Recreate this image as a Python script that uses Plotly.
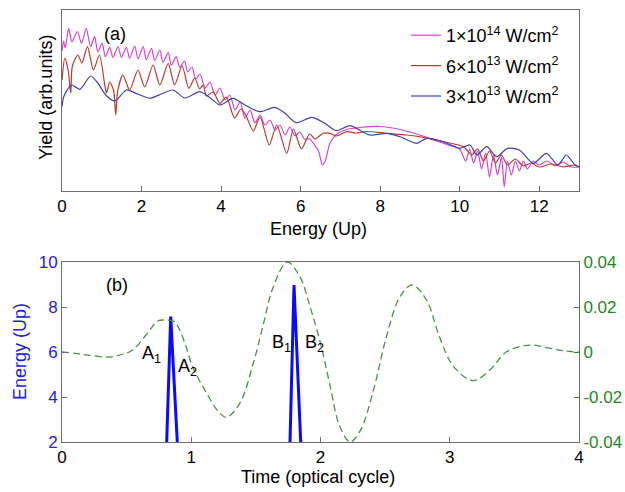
import plotly.graph_objects as go

# ---------------- Panel (a): yield spectra (arb. units) ----------------
e_1e14 = [0.00, 0.04, 0.08, 0.17, 0.25, 0.385, 0.49, 0.61, 0.72, 0.82, 0.90, 1.01, 1.09, 1.20, 1.28,
          1.41, 1.49, 1.62, 1.70, 1.83, 1.91, 2.04, 2.12, 2.25, 2.33, 2.46, 2.54, 2.67, 2.75, 2.87,
          2.96, 3.08, 3.16, 3.27, 3.36, 3.47, 3.60, 3.72, 3.85, 3.97, 4.10, 4.22, 4.35, 4.48, 4.60,
          4.73, 4.85, 4.98, 5.10, 5.23, 5.36, 5.48, 5.61, 5.73, 5.86, 5.98, 6.10, 6.23, 6.35, 6.45,
          6.55, 6.62, 6.74, 6.91, 7.16, 7.50, 8.00, 8.50, 9.00, 9.42, 9.84, 10.0, 10.15, 10.25,
          10.35, 10.45, 10.55, 10.65, 10.75, 10.85, 10.95, 11.05, 11.12, 11.20, 11.30, 11.40, 11.50,
          11.60, 11.70, 11.85, 12.0, 12.2, 12.4, 12.6, 12.8, 13.0]
y_1e14 = [140, 150, 143, 162.7, 149, 159.3, 147.7, 162.7, 144.3, 154.3, 139.3, 147.7, 134.3, 143.7, 133.7,
          144.3, 133.7, 143.7, 132.7, 145, 132, 144.3, 131.3, 142.7, 130.3, 141, 128.7, 138.3, 125.7, 134.3,
          123.7, 130, 119, 124, 112, 117, 103, 109, 96, 103, 91, 96, 81, 89, 73,
          81, 68, 76, 66, 71, 61, 66, 56, 64, 55, 59, 52, 52, 46, 40,
          26, 30, 48, 57, 61.5, 63.5, 64.5, 61.5, 56, 50, 44.5, 42, 30, 42,
          28, 40, 22, 38, 14, 36, 16, 34, 4, 30, 16, 30, 20,
          30, 22, 30, 26, 30, 25, 29, 24, 24]

e_6e13 = [0.00, 0.07, 0.15, 0.22, 0.26, 0.40, 0.50, 0.64, 0.79, 0.94, 1.08, 1.12, 1.20, 1.30, 1.35,
          1.40, 1.53, 1.70, 1.91, 2.08, 2.29, 2.46, 2.67, 2.83, 3.02, 3.19, 3.34, 3.46, 3.55, 3.63,
          3.80, 3.97, 4.13, 4.34, 4.50, 4.62, 4.81, 4.98, 5.21, 5.40, 5.65, 5.82, 6.02, 6.23, 6.36,
          6.57, 6.74, 6.90, 7.16, 7.40, 7.66, 8.17, 8.67, 9.08, 9.59, 10.1, 10.3, 10.45, 10.6, 10.75,
          10.9, 11.05, 11.2, 11.4, 11.6, 11.8, 12.0, 12.3, 12.6, 12.9, 13.0]
y_6e13 = [111, 132.7, 122, 97.7, 125, 136, 128, 144.3, 121, 136, 105, 98, 109, 100, 76,
          100, 116, 101, 121, 104, 126, 106, 127.7, 106, 125, 102.7, 113, 102, 106, 95,
          99, 87.7, 94, 73, 82, 76, 60, 74, 46, 66, 37.7, 62, 42, 57, 52,
          57.7, 57.7, 55, 59.3, 58, 59.5, 57.7, 56, 53.7, 49.3, 44.3, 36, 42, 30, 40,
          28, 36, 26, 32, 25, 28, 24, 27, 24, 26, 24]

e_3e13 = [0.00, 0.05, 0.24, 0.45, 0.72, 0.90, 1.10, 1.33, 1.62, 1.90, 2.21, 2.50, 2.79, 3.09, 3.46,
          3.70, 3.97, 4.30, 4.60, 4.97, 5.35, 5.60, 5.89, 6.28, 6.60, 6.90, 7.24, 7.74, 8.17, 8.50,
          8.92, 9.17, 9.59, 10.0, 10.26, 10.43, 10.68, 10.93, 11.2, 11.5, 11.85, 12.18, 12.47, 12.68,
          12.9, 13.0]
y_3e13 = [84.3, 95, 106, 101.7, 115, 108, 96, 90, 101, 97, 92.7, 97, 101, 93, 99.3,
          94, 86, 92.7, 86, 79.3, 83.7, 78, 68.3, 73.7, 68, 60.3, 65.3, 56, 57.7, 54.3,
          47.7, 52.7, 49.3, 42.7, 46, 36, 44.3, 34.3, 42.7, 41, 27.7, 37.7, 26, 36,
          26, 24.3]

legend_names = ["1×10<sup>14</sup> W/cm<sup>2</sup>",
                "6×10<sup>13</sup> W/cm<sup>2</sup>",
                "3×10<sup>13</sup> W/cm<sup>2</sup>"]

# ---------------- Panel (b) ----------------
spike_a_t = [0.81, 0.841, 0.892]
spike_a_e = [2.0, 7.57, 2.0]
spike_b_t = [1.764, 1.795, 1.847]
spike_b_e = [2.0, 8.98, 2.0]

field_t = [0.00, 0.10, 0.20, 0.37, 0.48, 0.55, 0.68, 0.74, 0.80, 0.87, 0.91, 0.96, 1.01, 1.12, 1.22,
           1.274, 1.377, 1.48, 1.56, 1.635, 1.743, 1.84, 1.92, 2.00, 2.07, 2.15, 2.23, 2.31, 2.41,
           2.51, 2.615, 2.71, 2.82, 2.92, 3.03, 3.18, 3.31, 3.44, 3.62, 3.78, 3.90, 4.00]
field_v = [0.0, -0.0006, -0.0014, -0.0022, -0.0008, 0.0010, 0.0098, 0.0138, 0.0142, 0.0135, 0.0098,
           0.0024, -0.0065, -0.0184, -0.0272, -0.0290, -0.0226, -0.0050, 0.0128, 0.0290, 0.0400,
           0.0335, 0.0200, 0.0039, -0.0139, -0.0332, -0.0400, -0.0347, -0.0169, 0.0068, 0.0246,
           0.0298, 0.0231, 0.0068, -0.0065, -0.0127, -0.0080, 0.0001, 0.0031, 0.0016, 0.0004, 0.0]

top_xticks = [0, 2, 4, 6, 8, 10, 12]
bot_xticks = [0, 1, 2, 3, 4]
left_yticks = [2, 4, 6, 8, 10]
right_yticks = [-0.04, -0.02, 0, 0.02, 0.04]
right_yticktext = ["-0.04", "-0.02", "0", "0.02", "0.04"]

W, H = 625, 492
FONT = "Liberation Sans, Arial, sans-serif"
AXC = "#6e6e6e"

def px(x):
    return x / W

def py(y):
    return 1 - y / H

fig = go.Figure()
colors = ["#d444d4", "#bc3a30", "#3f3fb0"]
for i, (e, y, c, n) in enumerate([(e_1e14, y_1e14, colors[0], legend_names[0]),
                                  (e_6e13, y_6e13, colors[1], legend_names[1]),
                                  (e_3e13, y_3e13, colors[2], legend_names[2])]):
    fig.add_trace(go.Scatter(x=e, y=y, mode="lines", name=n, legendgroup="g%d" % i,
                             line=dict(color=c, width=1.2, shape="spline", smoothing=0.7),
                             xaxis="x", yaxis="y"))

fig.add_trace(go.Scatter(x=field_t, y=field_v, mode="lines", showlegend=False,
                         line=dict(color="#4a904a", width=1.3, dash="7px,4px", shape="spline", smoothing=1.0),
                         xaxis="x2", yaxis="y3"))
for t, e in [(spike_a_t, spike_a_e), (spike_b_t, spike_b_e)]:
    fig.add_trace(go.Scatter(x=t, y=e, mode="lines", showlegend=False,
                             line=dict(color="#0a0aff", width=3),
                             xaxis="x2", yaxis="y2"))

xdom = [px(62), px(579)]
common = dict(showline=True, linecolor=AXC, linewidth=1, mirror=True, showgrid=False, zeroline=False,
              tickfont=dict(family=FONT, size=17, color="black"), ticks="inside", ticklen=5,
              tickcolor=AXC, automargin=False)

fig.update_layout(
    width=W, height=H, margin=dict(l=0, r=0, t=0, b=0, pad=0, autoexpand=False),
    paper_bgcolor="white", plot_bgcolor="white",
    font=dict(family=FONT, size=17, color="black"),
    xaxis=dict(domain=xdom, anchor="y", range=[0, 13], tickvals=top_xticks, **common),
    yaxis=dict(domain=[py(191), py(10)], anchor="x", range=[0, 181],
               showline=True, linecolor=AXC, linewidth=1, mirror=True, showgrid=False,
               zeroline=False, showticklabels=False, ticks="", automargin=False),
    xaxis2=dict(domain=xdom, anchor="y2", range=[0, 4], tickvals=bot_xticks, **common),
    yaxis2=dict(domain=[py(442), py(262)], anchor="x2", range=[2, 10], tickvals=left_yticks,
                showline=True, linecolor=AXC, linewidth=1, mirror=True, showgrid=False, zeroline=False,
                ticks="inside", ticklen=5, tickcolor=AXC, automargin=False,
                tickfont=dict(family=FONT, size=17, color="#2020e8")),
    yaxis3=dict(overlaying="y2", anchor="x2", side="right", range=[-0.04, 0.04],
                tickvals=right_yticks, ticktext=right_yticktext,
                showline=True, linecolor=AXC, linewidth=1, showgrid=False, zeroline=False,
                ticks="inside", ticklen=5, tickcolor="#2a8a2a", automargin=False,
                tickfont=dict(family=FONT, size=17, color="#1f8a1f")),
    legend=dict(x=px(406), y=py(17), xanchor="left", yanchor="top",
                bgcolor="rgba(255,255,255,0)", borderwidth=0, tracegroupgap=4,
                font=dict(family=FONT, size=18, color="black")),
)

ann = [
    ("Energy (Up)", 318, 229, 18, "black", 0),
    ("Time (optical cycle)", 318, 477, 18, "black", 0),
    ("Yield (arb.units)", 46, 98, 18, "black", -90),
    ("Energy (Up)", 20, 352, 18, "#2020e8", -90),
    ("(a)", 115, 34, 18, "black", 0),
    ("(b)", 117, 285, 18, "black", 0),
    ("A<sub>1</sub>", 151, 354, 18, "black", 0),
    ("A<sub>2</sub>", 187, 367, 18, "black", 0),
    ("B<sub>1</sub>", 281, 343, 18, "black", 0),
    ("B<sub>2</sub>", 314, 343, 18, "black", 0),
]
for text, x, y, s, c, rot in ann:
    fig.add_annotation(text=text, x=px(x), y=py(y), xref="paper", yref="paper",
                       showarrow=False, xanchor="center", yanchor="middle", textangle=rot,
                       font=dict(family=FONT, size=s, color=c))

fig.write_html("out.html", config={"displayModeBar": False},
               post_script="document.body.style.margin='0';document.body.style.overflow='hidden';")
